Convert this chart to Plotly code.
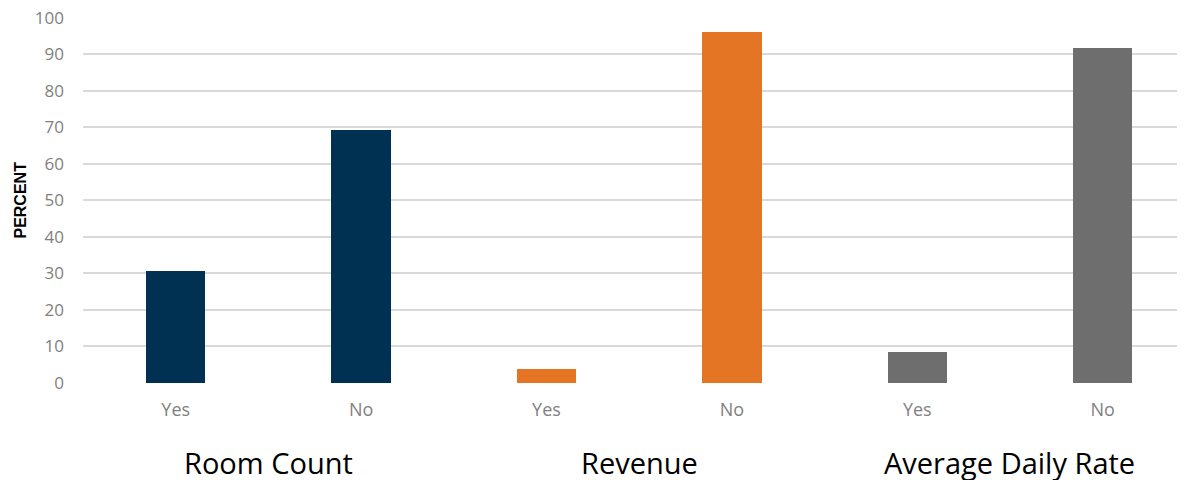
import plotly.graph_objects as go

groups = ["Room Count", "Revenue", "Average Daily Rate"]
answers = ["Yes", "No"]
values = {
    "Room Count": [30.8, 69.2],
    "Revenue": [3.8, 96.2],
    "Average Daily Rate": [8.4, 91.6],
}
colors = {
    "Room Count": "#003052",
    "Revenue": "#E37524",
    "Average Daily Rate": "#6E6E6E",
}
y_ticks = list(range(0, 101, 10))
y_title = "PERCENT"

fig = go.Figure()
tickvals, ticktext = [], []
for gi, g in enumerate(groups):
    xs = [gi * 2 + ai for ai in range(len(answers))]
    tickvals += xs
    ticktext += answers
    fig.add_trace(go.Bar(
        x=xs, y=values[g], marker=dict(color=colors[g], line=dict(width=0)),
        width=0.32, showlegend=False, name=g,
    ))
    fig.add_annotation(
        x=gi * 2 + 0.5, xref="x", y=-0.216, yref="paper",
        text=g, showarrow=False, yanchor="middle", xanchor="center",
        font=dict(family="Open Sans", size=29, color="#000000"),
    )

fig.add_annotation(
    x=-0.0576, xref="paper", y=0.5, yref="paper", text="<b>" + y_title + "</b>",
    textangle=-90, showarrow=False, xanchor="center", yanchor="middle",
    font=dict(family="Liberation Sans", size=16, color="#000000"),
)

fig.update_layout(
    width=1177, height=472,
    margin=dict(l=75, r=0, t=9, b=97),
    plot_bgcolor="white", paper_bgcolor="white",
    bargap=0,
    xaxis=dict(
        range=[-0.5, 5.444], tickmode="array", tickvals=tickvals, ticktext=ticktext,
        showgrid=False, zeroline=False, showline=False, ticks="",
        tickfont=dict(family="Open Sans", size=18, color="#7F7F7F"),
        ticklabelstandoff=14, automargin=False,
    ),
    yaxis=dict(
        range=[0, 100.2], tickvals=y_ticks, showgrid=True, gridcolor="#D9D9D9",
        gridwidth=1.5, zeroline=False, showline=False, ticks="",
        tickfont=dict(family="Open Sans", size=17, color="#7F7F7F"),
        ticklabelstandoff=18, automargin=False, ticklabeloverflow="allow",
    ),
)
fig.write_html("out.html")
